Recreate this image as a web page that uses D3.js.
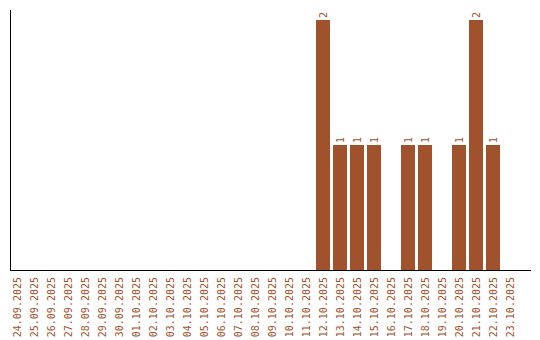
<!DOCTYPE html>
<html>
<head>
<meta charset="utf-8">
<script src="https://cdn.jsdelivr.net/npm/d3@7"></script>
<style>
  body { margin: 0; background: #fff; }
  text { font-family: "DejaVu Sans Mono", monospace; font-size: 10px; fill: #a0522d; }
</style>
</head>
<body>
<div id="chart"></div>
<script>
const dates = [
  '24.09.2025', '25.09.2025', '26.09.2025', '27.09.2025', '28.09.2025', '29.09.2025',
  '30.09.2025', '01.10.2025', '02.10.2025', '03.10.2025', '04.10.2025', '05.10.2025',
  '06.10.2025', '07.10.2025', '08.10.2025', '09.10.2025', '10.10.2025', '11.10.2025',
  '12.10.2025', '13.10.2025', '14.10.2025', '15.10.2025', '16.10.2025', '17.10.2025',
  '18.10.2025', '19.10.2025', '20.10.2025', '21.10.2025', '22.10.2025', '23.10.2025'
];
const counts = [
  0, 0, 0, 0, 0, 0,
  0, 0, 0, 0, 0, 0,
  0, 0, 0, 0, 0, 0,
  2, 1, 1, 1, 0, 1,
  1, 0, 1, 2, 1, 0
];

const width = 540;
const height = 340;
const barColor = '#a0522d';

const svg = d3.select('#chart').append('svg')
  .attr('width', width)
  .attr('height', height);

// x: шаг 17px, столбик 14px
const x = d3.scaleBand()
  .domain(dates)
  .range([10, 517])
  .paddingInner(3 / 17)
  .paddingOuter(0);

const y = d3.scaleLinear()
  .domain([0, 2])
  .range([270, 20]);

const data = dates.map((d, i) => ({ date: d, value: counts[i] }));

// bars
svg.append('g')
  .selectAll('rect')
  .data(data.filter(d => d.value > 0))
  .join('rect')
  .attr('x', d => x(d.date))
  .attr('y', d => y(d.value))
  .attr('width', x.bandwidth())
  .attr('height', d => y(0) - y(d.value))
  .attr('fill', barColor);

// value labels above bars
svg.append('g')
  .selectAll('text')
  .data(data.filter(d => d.value > 0))
  .join('text')
  .attr('transform', d => 'translate(' + (x(d.date) + x.bandwidth() / 2 + 3.5) + ',' + (y(d.value) - 2) + ') rotate(-90)')
  .attr('text-anchor', 'start')
  .text(d => d.value);

// axes lines
svg.append('line')
  .attr('x1', 10.5).attr('x2', 10.5)
  .attr('y1', 10).attr('y2', 270.5)
  .attr('stroke', '#000');
svg.append('line')
  .attr('x1', 10).attr('x2', 531)
  .attr('y1', 270.5).attr('y2', 270.5)
  .attr('stroke', '#000');

// x labels
svg.append('g')
  .selectAll('text')
  .data(dates)
  .join('text')
  .attr('transform', d => 'translate(' + (x(d) + x.bandwidth() / 2 + 3.5) + ',277) rotate(-90)')
  .attr('text-anchor', 'end')
  .text(d => d);
</script>
</body>
</html>
